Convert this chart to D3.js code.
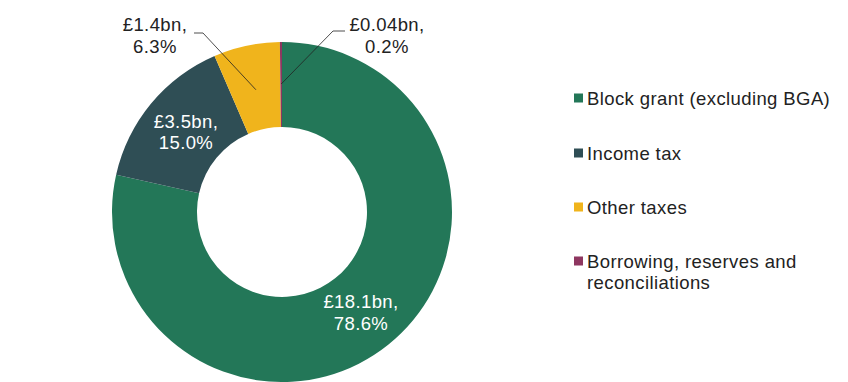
<!DOCTYPE html>
<meta charset="utf-8">
<style>
body { margin: 0; background: #fff; }
text { font-family: "Liberation Sans", Arial, sans-serif; font-size: 18.5px; letter-spacing: 0.4px; }
</style>
<svg width="848" height="382"></svg>
<script src="https://d3js.org/d3.v7.min.js"></script>
<script>

var categories = ["Block grant (excluding BGA)", "Income tax", "Other taxes", "Borrowing, reserves and reconciliations"];
var amounts = ["£18.1bn", "£3.5bn", "£1.4bn", "£0.04bn"];
var shares = [78.6, 15.0, 6.3, 0.2];
var colors = ["#237758", "#2f4e55", "#f0b41c", "#8e3660"];

var svg = d3.select("svg");
var cx = 282, cy = 212, outerR = 170, innerR = 85;

var pie = d3.pie().sort(null).value(function(d) { return d; });
var arc = d3.arc().innerRadius(innerR).outerRadius(outerR);
var arcs = pie(shares);

var g = svg.append("g").attr("transform", "translate(" + cx + "," + cy + ")");

g.selectAll("path")
  .data(arcs)
  .enter().append("path")
    .attr("d", arc)
    .attr("fill", function(d, i) { return colors[i]; });

function label(i, x, y, gap, fill) {
  var t = svg.append("text")
      .attr("y", y)
      .attr("fill", fill)
      .attr("text-anchor", "middle");
  t.append("tspan").attr("x", x).text(amounts[i] + ",");
  t.append("tspan").attr("x", x).attr("dy", gap).text(shares[i].toFixed(1) + "%");
}

// labels inside the big slices
label(0, 361, 308, 22, "#fff");
label(1, 186, 128, 21, "#fff");

// outside labels with leader lines
var outside = [
  { i: 2, x: 155, y: 31, r: 125, line: [[194, 33], [203, 33]] },
  { i: 3, x: 387, y: 31, r: 128, line: [[345, 31], [333, 31]] }
];
outside.forEach(function(l) {
  var d = arcs[l.i];
  var mid = (d.startAngle + d.endAngle) / 2;
  var end = [cx + l.r * Math.sin(mid), cy - l.r * Math.cos(mid)];
  svg.append("path")
      .attr("d", d3.line()(l.line.concat([end])))
      .attr("fill", "none")
      .attr("stroke", "#222")
      .attr("stroke-width", 0.8);
  label(l.i, l.x, l.y, 22, "#222");
});

// legend
var legendY = [98, 153, 207, 261];
var legend = svg.append("g");
categories.forEach(function(c, i) {
  legend.append("rect")
      .attr("x", 574)
      .attr("y", legendY[i] - 4.5)
      .attr("width", 9)
      .attr("height", 9)
      .attr("fill", colors[i]);
  var t = legend.append("text")
      .attr("x", 587)
      .attr("y", legendY[i] + 7)
      .attr("fill", "#222");
  if (i == 3) {
    t.append("tspan").attr("x", 587).text("Borrowing, reserves and");
    t.append("tspan").attr("x", 587).attr("dy", 21).text("reconciliations");
  } else {
    t.text(c);
  }
});

</script>
